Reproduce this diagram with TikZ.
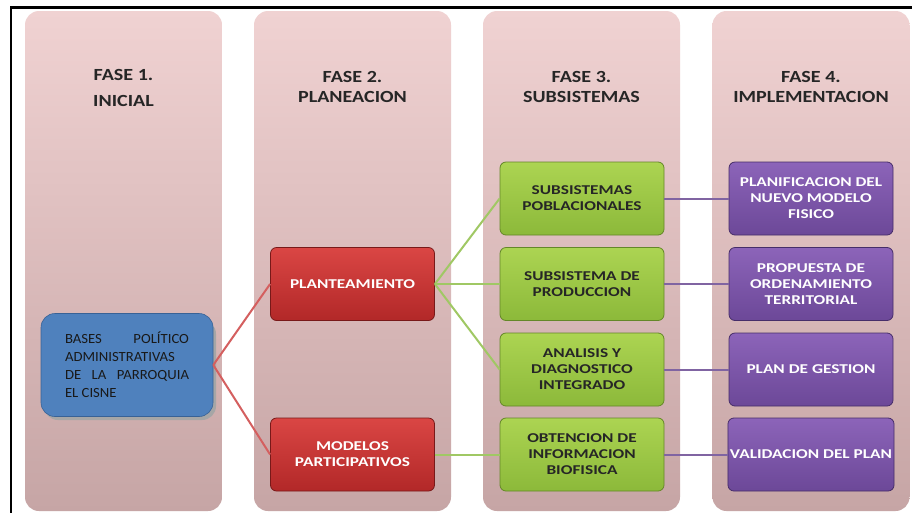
\documentclass[tikz,border=0pt]{standalone}
\usepackage{fontspec}
\setmainfont{Carlito}
\newfontfamily\hdfont[FakeStretch=1.18]{Carlito}
\newfontfamily\bxfont[FakeStretch=1.28]{Carlito}
\newfontfamily\blfont[FakeStretch=1.05]{Carlito}
\definecolor{colT}{RGB}{240,210,210}
\definecolor{colB}{RGB}{198,165,165}
\definecolor{redT}{RGB}{218,70,68}
\definecolor{redB}{RGB}{178,40,40}
\definecolor{redD}{RGB}{120,25,25}
\definecolor{grnT}{RGB}{172,212,82}
\definecolor{grnB}{RGB}{140,185,58}
\definecolor{grnD}{RGB}{100,135,40}
\definecolor{purT}{RGB}{140,100,185}
\definecolor{purB}{RGB}{108,72,152}
\definecolor{purD}{RGB}{70,45,105}
\definecolor{blueF}{RGB}{79,129,189}
\definecolor{blueD}{RGB}{56,98,150}
\definecolor{lnRed}{RGB}{212,95,95}
\definecolor{lnGrn}{RGB}{160,200,100}
\definecolor{lnPur}{RGB}{128,100,162}
\tikzset{
  colbox/.style={rounded corners=14pt, top color=colT, bottom color=colB, draw=none,
    minimum width=197pt, minimum height=500pt, inner sep=0pt},
  header/.style={font=\hdfont\bfseries\fontsize{17}{20}\selectfont, text=black!85, align=center, inner sep=0pt},
  stagebox/.style={rounded corners=6pt, minimum width=164pt, minimum height=73pt, inner sep=2pt,
    align=center, font=\bxfont\bfseries\fontsize{13.5}{16}\selectfont, line width=0.8pt},
  redbox/.style={stagebox, top color=redT, bottom color=redB, draw=redD, text=white},
  grnbox/.style={stagebox, top color=grnT, bottom color=grnB, draw=grnD, text=black!85},
  purbox/.style={stagebox, top color=purT, bottom color=purB, draw=purD, text=white},
  bluebox/.style={rounded corners=14pt, fill=blueF, draw=blueD, line width=0.6pt,
    minimum width=172pt, minimum height=103pt, text width=124pt, align=justify,
    font=\blfont\fontsize{14}{18}\selectfont, text=black!90},
  redline/.style={draw=lnRed, line width=2pt},
  grnline/.style={draw=lnGrn, line width=2pt},
  purline/.style={draw=lnPur, line width=2pt},
}
\begin{document}
\begin{tikzpicture}[x=1pt,y=-1pt]
\useasboundingbox (0,0) rectangle (912,512);
\fill[white] (0,0) rectangle (912,512);
% frame
\draw[black, line width=2.2pt] (11,514) -- (11,7.5) -- (914,7.5);
% columns
\node[colbox] (col1) at (123.5,261) {};
\node[colbox] (col2) at (352.5,261) {};
\node[colbox] (col3) at (581.5,261) {};
\node[colbox] (col4) at (811,261) {};
% headers
\node[header] (h1) at (123.5,88) {FASE 1.\\[6pt]INICIAL};
\node[header] (h2) at (352.5,87) {FASE 2.\\PLANEACION};
\node[header] (h3) at (581.5,87) {FASE 3.\\SUBSISTEMAS};
\node[header] (h4) at (811,87) {FASE 4.\\IMPLEMENTACION};
% blue node with shadow
\fill[gray!70] (44,320) [rounded corners=14pt] rectangle (216,420);
\node[bluebox] (base) at (127,365) {BASES\hfill POLÍTICO\\ADMINISTRATIVAS\\DE\hfill LA\hfill PARROQUIA\\EL CISNE};
% phase 2
\node[redbox] (plan) at (352.5,284) {PLANTEAMIENTO};
\node[redbox] (mod) at (352.5,454.5) {MODELOS\\PARTICIPATIVOS};
% phase 3
\node[grnbox] (g1) at (582,198.5) {SUBSISTEMAS\\POBLACIONALES};
\node[grnbox] (g2) at (582,284) {SUBSISTEMA DE\\PRODUCCION};
\node[grnbox] (g3) at (582,369.5) {ANALISIS Y\\DIAGNOSTICO\\INTEGRADO};
\node[grnbox] (g4) at (582,454.5) {OBTENCION DE\\INFORMACION\\BIOFISICA};
% phase 4
\node[purbox] (p1) at (811,198.5) {PLANIFICACION DEL\\NUEVO MODELO\\FISICO};
\node[purbox] (p2) at (811,284) {PROPUESTA DE\\ORDENAMIENTO\\TERRITORIAL};
\node[purbox] (p3) at (811,369.5) {PLAN DE GESTION};
\node[purbox] (p4) at (811,454.5) {VALIDACION DEL PLAN};
% connectors
\draw[redline] (base.east) -- (plan.west);
\draw[redline] (base.east) -- (mod.west);
\draw[grnline] (plan.east) -- (g1.west);
\draw[grnline] (plan.east) -- (g2.west);
\draw[grnline] (plan.east) -- (g3.west);
\draw[grnline] (mod.east) -- (g4.west);
\draw[purline] (g1.east) -- (p1.west);
\draw[purline] (g2.east) -- (p2.west);
\draw[purline] (g3.east) -- (p3.west);
\draw[purline] (g4.east) -- (p4.west);
\end{tikzpicture}
\end{document}
